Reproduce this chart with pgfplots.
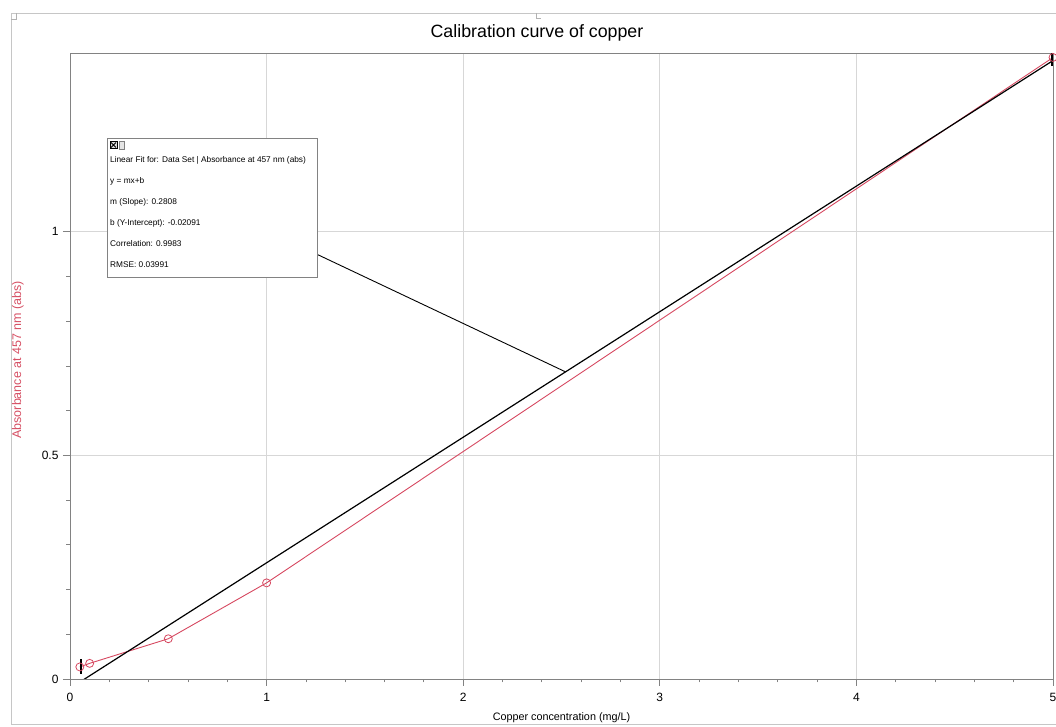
\documentclass[border=0pt]{standalone}
\usepackage{pgfplots}
\pgfplotsset{compat=1.18}
\usepackage{fontspec}
\setmainfont{Liberation Sans}
\definecolor{datared}{RGB}{214,72,96}
\definecolor{axgray}{RGB}{130,130,130}
\definecolor{gridgray}{RGB}{215,215,215}
\definecolor{labred}{RGB}{214,80,100}
\pgfplotstableread{
x y
0.05 0.027
0.1 0.035
0.5 0.090
1.0 0.215
5.0 1.390
}\datatable
\begin{document}
\begin{tikzpicture}
\path[use as bounding box] (-70pt,-48pt) rectangle (986pt,679pt);
\draw[gray!45, line width=0.8pt] (986pt,666pt) -- (-59pt,666pt) -- (-59pt,-45pt) -- (986pt,-45pt);
\draw[gray!60, line width=0.8pt] (-59pt,660pt) -- (-54pt,660pt) -- (-54pt,666pt);
\draw[gray!60, line width=0.8pt] (466pt,666pt) -- (466pt,661pt) -- (471pt,661pt);
\node[font=\fontsize{17.8}{20}\selectfont] at (467pt,646pt) {Calibration curve of copper};
\begin{axis}[
  at={(0pt,0pt)}, anchor=south west,
  scale only axis, width=983pt, height=626pt,
  xmin=0, xmax=5, ymin=0, ymax=1.4,
  xtick={0,1,2,3,4,5}, ytick={0,0.5,1},
  yticklabels={0,0.5,1},
  minor x tick num=4, minor y tick num=4,
  tick pos=left, tick align=outside,
  major tick length=7pt, minor tick length=3.5pt,
  axis line style={axgray, line width=0.9pt},
  every tick/.style={axgray, line width=0.8pt},
  grid=major, major grid style={gridgray, line width=0.8pt},
  /pgf/number format/assume math mode=true,
  ticklabel style={font=\fontsize{12}{14}\selectfont},
  xticklabel style={yshift=-4pt},
  yticklabel style={xshift=-1pt},
  xlabel={Copper concentration (mg/L)},
  ylabel={Absorbance at 457 nm (abs)},
  every axis x label/.style={at={(axis description cs:0.5,-0.0623)}, anchor=center, font=\fontsize{10.8}{12}\selectfont},
  every axis y label/.style={at={(axis description cs:-0.053,0.51)}, anchor=center, rotate=90, font=\fontsize{12.5}{14}\selectfont, text=labred},
]
\addplot[datared, line width=0.9pt, mark=o, mark size=4pt, mark options={datared, line width=0.8pt}] table[x=x,y=y] {\datatable};
\addplot[black, line width=1.2pt] coordinates {(0.05,-0.00687) (5,1.38309)};
\draw[black, line width=0.9pt] (axis cs:1.26,0.949) -- (axis cs:2.52,0.687);
\draw[black, line width=1.6pt] (axis cs:0.057,0.012) -- (axis cs:0.057,0.045);
\draw[black, line width=1.6pt] (axis cs:4.995,1.40) -- (axis cs:4.995,1.37);
\node[draw=axgray, fill=white, line width=0.8pt, anchor=north west, inner sep=0pt, minimum width=210pt, minimum height=139pt] (box) at (axis cs:0.188,1.211) {};
\node[anchor=north west, align=left, inner sep=0pt, font=\fontsize{8.3}{21}\selectfont] at ([xshift=3pt,yshift=-19pt]box.north west) {Linear Fit for: Data Set | Absorbance at 457 nm (abs)\\ y = mx+b\\ m (Slope): 0.2808\\ b (Y-Intercept): -0.02091\\ Correlation: 0.9983\\ RMSE: 0.03991};
\draw[black, line width=0.6pt, fill=gray!30] ([xshift=3pt,yshift=-4pt]box.north west) rectangle ++(7pt,-7pt);
\draw[black, line width=0.9pt] ([xshift=4pt,yshift=-5pt]box.north west) -- ++(5pt,-5pt) ([xshift=9pt,yshift=-5pt]box.north west) -- ++(-5pt,-5pt);
\draw[gray, line width=0.6pt, fill=gray!20] ([xshift=12pt,yshift=-4pt]box.north west) rectangle ++(5pt,-8pt);
\end{axis}
\end{tikzpicture}
\end{document}
